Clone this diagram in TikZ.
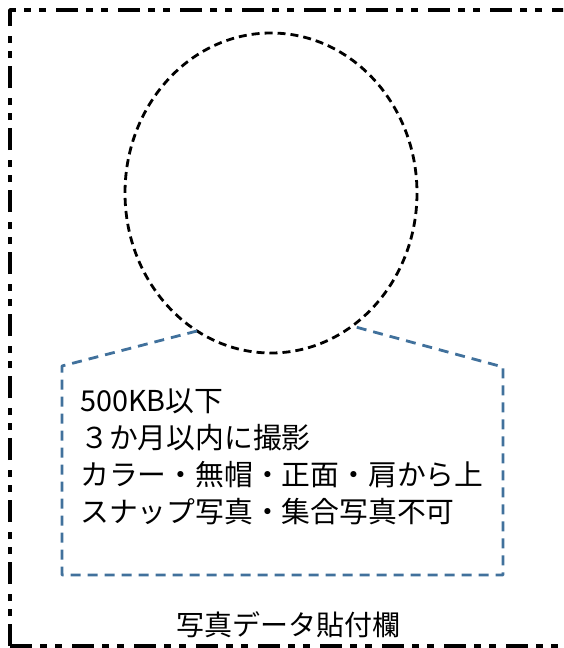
\documentclass[tikz,border=0pt]{standalone}
\usepackage{fontspec}
\newfontfamily\jpfont{Noto Sans CJK JP}
\definecolor{callblue}{RGB}{65,113,156}
\tikzset{
  frameline/.style={line width=3.4pt,dash pattern=on 22pt off 8pt on 7pt off 8pt on 7pt off 10pt},
  faceline/.style={line width=2.8pt,dash pattern=on 8pt off 5pt},
  callline/.style={callblue,line width=2.8pt,dash pattern=on 10pt off 7pt},
  notetext/.style={font=\jpfont\fontsize{28.8}{37}\selectfont,align=left,inner sep=0pt}
}
\begin{document}
\begin{tikzpicture}[x=1pt,y=-1pt,join=round] % photo frame
        \useasboundingbox (0,0) rectangle (563,648);
        \clip (0,0) rectangle (563,648);
        \draw[frameline](10,646)--(10,10)--(580,10);
        \draw[frameline](10,646)--(580,646);
        \draw[faceline](271,193) ellipse [x radius=146,y radius=160];
        \coordinate (tl) at (197,331);
        \coordinate (tr) at (352,326);
        \draw[callline](tl)--(62,366)--(62,575)--(503,575)--(503,367)--(tr);
        \node[notetext,anchor=north west] (note) at (80,389)
                {500KB以下\\ ３か月以内に撮影\\カラー・無帽・正面・肩から上\\スナップ写真・集合写真不可};
        \node[font=\jpfont\fontsize{28}{30}\selectfont] (label) at (288,625) {写真データ貼付欄};
     \end{tikzpicture}
\end{document}
